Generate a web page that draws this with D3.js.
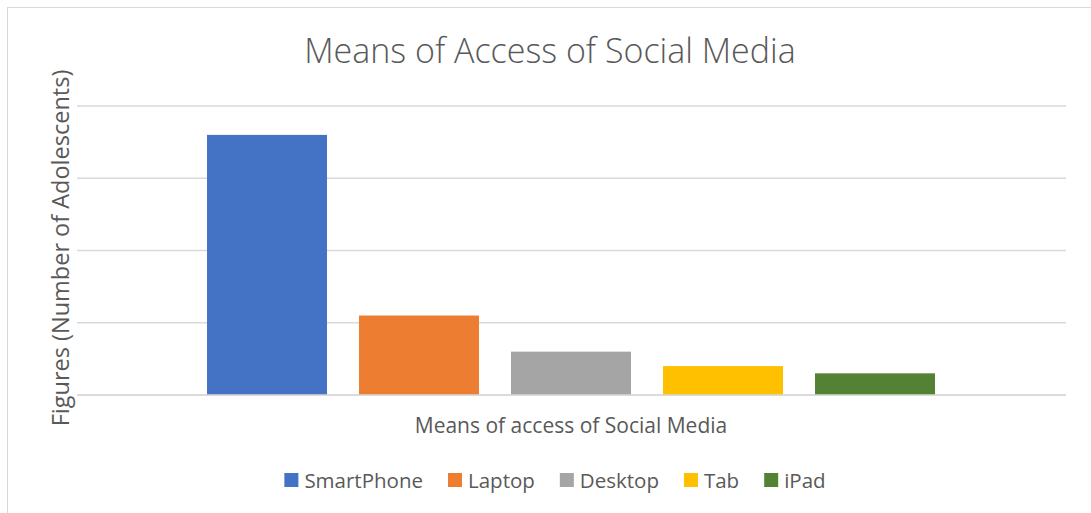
<!DOCTYPE html>
<html>
<head>
<meta charset="utf-8">
<script src="https://cdn.jsdelivr.net/npm/d3@7/dist/d3.min.js"></script>
<style>
  html, body { margin: 0; padding: 0; background: #fff; }
  svg { display: block; }
</style>
</head>
<body>
<script>
// Devices used by adolescents to reach social media
const categories = ["SmartPhone", "Laptop", "Desktop", "Tab", "iPad"];
const values = [360, 110, 60, 40, 30];
const colors = ["#4472C4", "#ED7D31", "#A5A5A5", "#FFC000", "#548235"];
const yTicks = [0, 100, 200, 300, 400];

const W = 1091, H = 513;
const font = "'Open Sans', 'Noto Sans', sans-serif";
const textColor = "#595959";

const svg = d3.select("body").append("svg")
  .attr("width", W).attr("height", H);

// chart frame
svg.append("rect")
  .attr("x", 7.5).attr("y", 7.5)
  .attr("width", W + 20).attr("height", H + 20)
  .attr("fill", "#fff").attr("stroke", "#d9d9d9").attr("stroke-width", 1);

const plot = { left: 77, right: 1066, top: 106, bottom: 395 };

const y = d3.scaleLinear()
  .domain([0, d3.max(yTicks)])
  .range([plot.bottom, plot.top]);

// bars sit in a single cluster centred on the plot
const x = d3.scaleBand()
  .domain(categories)
  .range([207, 935])
  .paddingInner(32 / 152)
  .paddingOuter(0);

// horizontal gridlines
svg.append("g")
  .selectAll("line")
  .data(yTicks)
  .join("line")
  .attr("x1", plot.left).attr("x2", plot.right)
  .attr("y1", d => y(d)).attr("y2", d => y(d))
  .attr("stroke", "#d9d9d9").attr("stroke-width", 1.5);

// bars
svg.append("g")
  .selectAll("rect")
  .data(categories)
  .join("rect")
  .attr("x", d => x(d))
  .attr("width", x.bandwidth())
  .attr("y", (d, i) => y(values[i]))
  .attr("height", (d, i) => y(0) - y(values[i]))
  .attr("fill", (d, i) => colors[i]);

// baseline over the bars
svg.append("line")
  .attr("x1", plot.left).attr("x2", plot.right)
  .attr("y1", y(0)).attr("y2", y(0))
  .attr("stroke", "#d9d9d9").attr("stroke-width", 1.5);

// title
svg.append("text")
  .attr("x", 550).attr("y", 63)
  .attr("text-anchor", "middle")
  .attr("font-family", font).attr("font-weight", 300)
  .attr("font-size", 34).attr("fill", textColor)
  .text("Means of Access of Social Media");

// y-axis title
svg.append("text")
  .attr("transform", "translate(69,248) rotate(-90)")
  .attr("text-anchor", "middle")
  .attr("font-family", font)
  .attr("font-size", 23.5).attr("fill", textColor)
  .text("Figures (Number of Adolescents)");

// x-axis title
svg.append("text")
  .attr("x", 571).attr("y", 433)
  .attr("text-anchor", "middle")
  .attr("font-family", font)
  .attr("font-size", 21).attr("fill", textColor)
  .text("Means of access of Social Media");

// legend
const legend = svg.append("g");
const items = legend.selectAll("g")
  .data(categories)
  .join("g");
items.append("rect")
  .attr("width", 14).attr("height", 14)
  .attr("y", -7)
  .attr("fill", (d, i) => colors[i]);
items.append("text")
  .attr("x", 20).attr("y", 7.5)
  .attr("font-family", font)
  .attr("font-size", 20.5).attr("fill", textColor)
  .text(d => d);

let cursor = 0;
const gap = 25;
items.each(function () {
  const g = d3.select(this);
  g.attr("transform", `translate(${cursor},0)`);
  const w = 20 + g.select("text").node().getComputedTextLength();
  cursor += w + gap;
});
const legendWidth = cursor - gap;
legend.attr("transform", `translate(${555 - legendWidth / 2},480)`);
</script>
</body>
</html>
